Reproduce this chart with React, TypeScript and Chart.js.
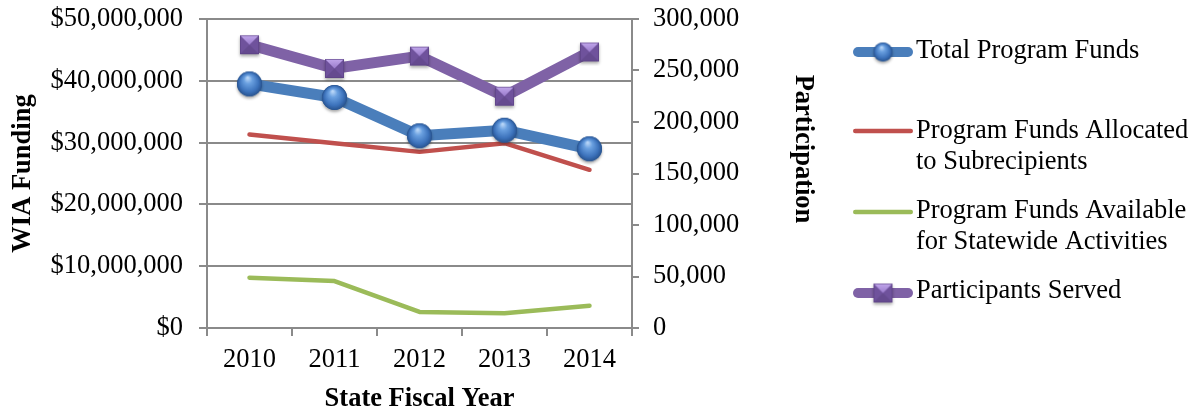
import React, { useEffect, useRef } from 'react';
import { Chart, registerables } from 'chart.js';

Chart.register(...registerables);

// ---- Data ----
const years = ['2010', '2011', '2012', '2013', '2014'];
const totalProgramFunds = [39500000, 37300000, 31100000, 32000000, 29000000];
const fundsAllocated = [31300000, 29900000, 28500000, 29900000, 25600000];
const fundsStatewide = [8150000, 7600000, 2600000, 2400000, 3600000];
const participantsServed = [275000, 252000, 264000, 225000, 268000];

const seriesLabels = [
  ['Total Program Funds'],
  ['Program Funds Allocated', 'to Subrecipients'],
  ['Program Funds Available', 'for Statewide Activities'],
  ['Participants Served'],
];

const fundingTitle = 'WIA Funding';
const participationTitle = 'Participation';
const yearTitle = 'State Fiscal Year';

// ---- Styles ----
const FONT = "'Liberation Serif', 'Times New Roman', serif";
const FS = 26.5;
const BLUE = '#4A7EBB';
const RED = '#C0504D';
const GREEN = '#9BBB59';
const PURPLE = '#7F62A6';
const GRID = '#8A8A8A';

function makeSphere(r: number): HTMLCanvasElement {
  const pad = 5;
  const size = Math.ceil(2 * (r + pad));
  const c = document.createElement('canvas');
  c.width = size;
  c.height = size;
  const ctx = c.getContext('2d')!;
  const cx = size / 2;
  const cy = size / 2;
  ctx.save();
  ctx.shadowColor = 'rgba(0,0,0,0.35)';
  ctx.shadowBlur = 3;
  ctx.shadowOffsetY = 2;
  ctx.beginPath();
  ctx.arc(cx, cy, r, 0, Math.PI * 2);
  ctx.fillStyle = '#2d5d9c';
  ctx.fill();
  ctx.restore();
  const g = ctx.createRadialGradient(cx - r * 0.15, cy - r * 0.5, r * 0.05, cx, cy, r);
  g.addColorStop(0, '#b7d5f7');
  g.addColorStop(0.3, '#6aa0e0');
  g.addColorStop(0.75, '#3c72bb');
  g.addColorStop(1, '#28538f');
  ctx.beginPath();
  ctx.arc(cx, cy, r, 0, Math.PI * 2);
  ctx.fillStyle = g;
  ctx.fill();
  return c;
}

function makeBevelSquare(s: number): HTMLCanvasElement {
  const pad = 5;
  const size = Math.ceil(s + 2 * pad);
  const c = document.createElement('canvas');
  c.width = size;
  c.height = size;
  const ctx = c.getContext('2d')!;
  const x0 = (size - s) / 2;
  const y0 = (size - s) / 2;
  const cx = size / 2;
  const cy = size / 2;
  ctx.save();
  ctx.shadowColor = 'rgba(0,0,0,0.35)';
  ctx.shadowBlur = 3;
  ctx.shadowOffsetY = 2;
  ctx.fillStyle = '#6a4e95';
  ctx.fillRect(x0, y0, s, s);
  ctx.restore();
  ctx.fillStyle = '#6f529c';
  ctx.fillRect(x0, y0, s, s);
  ctx.beginPath();
  ctx.moveTo(x0, y0 + s);
  ctx.lineTo(x0 + s, y0 + s);
  ctx.lineTo(cx, cy);
  ctx.closePath();
  ctx.fillStyle = '#654a8f';
  ctx.fill();
  ctx.beginPath();
  ctx.moveTo(x0, y0);
  ctx.lineTo(x0 + s, y0);
  ctx.lineTo(cx, cy);
  ctx.closePath();
  const g = ctx.createLinearGradient(0, y0, 0, cy);
  g.addColorStop(0, '#c2a8ec');
  g.addColorStop(1, '#9a7bcc');
  ctx.fillStyle = g;
  ctx.fill();
  ctx.strokeStyle = 'rgba(90,65,130,0.6)';
  ctx.lineWidth = 1;
  ctx.strokeRect(x0 + 0.5, y0 + 0.5, s - 1, s - 1);
  return c;
}

export default function App() {
  const canvasRef = useRef<HTMLCanvasElement | null>(null);

  useEffect(() => {
    const canvas = canvasRef.current;
    if (!canvas) return;

    const sphere = makeSphere(12.5);
    const square = makeBevelSquare(19);
    const sphereSmall = makeSphere(9.5);
    const squareSmall = makeBevelSquare(19);

    const legendEntries = [
      { color: BLUE, width: 10, marker: sphereSmall, symY: 52, textY: 51 },
      { color: RED, width: 4.5, marker: null, symY: 131, textY: 131.5 },
      { color: GREEN, width: 4.5, marker: null, symY: 212, textY: 211.5 },
      { color: PURPLE, width: 10, marker: squareSmall, symY: 293, textY: 291.5 },
    ];

    const extrasPlugin = {
      id: 'extras',
      afterDraw(chart: any) {
        const ctx = chart.ctx as CanvasRenderingContext2D;
        const area = chart.chartArea;
        ctx.save();
        ctx.font = `bold ${FS}px ${FONT}`;
        ctx.fillStyle = '#000';
        ctx.textAlign = 'center';
        ctx.textBaseline = 'middle';
        ctx.translate(area.right + 171, area.top + 130);
        ctx.rotate(Math.PI / 2);
        ctx.fillText(participationTitle, 0, 0);
        ctx.restore();

        ctx.save();
        const x0 = 853;
        const x1 = 913;
        const tx = 916;
        const lineGap = 31;
        legendEntries.forEach((e, i) => {
          ctx.beginPath();
          ctx.lineCap = 'round';
          ctx.strokeStyle = e.color;
          ctx.lineWidth = e.width;
          ctx.moveTo(x0 + e.width / 2, e.symY);
          ctx.lineTo(x1 - e.width / 2, e.symY);
          ctx.stroke();
          if (e.marker) {
            const m = e.marker as HTMLCanvasElement;
            ctx.drawImage(m, (x0 + x1) / 2 - m.width / 2, e.symY - m.height / 2);
          }
          ctx.font = `${FS}px ${FONT}`;
          ctx.fillStyle = '#000';
          ctx.textAlign = 'left';
          ctx.textBaseline = 'middle';
          const lines = (chart.data.datasets[i] as any).legendLines as string[];
          lines.forEach((t, j) => ctx.fillText(t, tx, e.textY + j * lineGap));
        });
        ctx.restore();
      },
    };

    const chart = new Chart(canvas, {
      type: 'line',
      data: {
        labels: years,
        datasets: [
          {
            label: seriesLabels[0].join(' '),
            legendLines: seriesLabels[0],
            data: totalProgramFunds,
            yAxisID: 'y',
            borderColor: BLUE,
            backgroundColor: BLUE,
            borderWidth: 11,
            pointStyle: sphere,
            pointRadius: 12,
            borderJoinStyle: 'round',
            tension: 0,
          } as any,
          {
            label: seriesLabels[1].join(' '),
            legendLines: seriesLabels[1],
            data: fundsAllocated,
            yAxisID: 'y',
            borderColor: RED,
            backgroundColor: RED,
            borderWidth: 4.5,
            pointRadius: 0,
            borderCapStyle: 'round',
            borderJoinStyle: 'round',
            tension: 0,
          } as any,
          {
            label: seriesLabels[2].join(' '),
            legendLines: seriesLabels[2],
            data: fundsStatewide,
            yAxisID: 'y',
            borderColor: GREEN,
            backgroundColor: GREEN,
            borderWidth: 4.5,
            pointRadius: 0,
            borderCapStyle: 'round',
            borderJoinStyle: 'round',
            tension: 0,
          } as any,
          {
            label: seriesLabels[3].join(' '),
            legendLines: seriesLabels[3],
            data: participantsServed,
            yAxisID: 'y1',
            borderColor: PURPLE,
            backgroundColor: PURPLE,
            borderWidth: 11,
            pointStyle: square,
            pointRadius: 10,
            borderJoinStyle: 'miter',
            tension: 0,
          } as any,
        ],
      },
      options: {
        responsive: false,
        animation: false,
        events: [],
        layout: { autoPadding: false, padding: { left: 0, top: 19, right: 378, bottom: 0 } },
        plugins: {
          legend: { display: false },
          tooltip: { enabled: false },
        },
        scales: {
          x: {
            offset: true,
            grid: {
              offset: true,
              drawOnChartArea: false,
              tickLength: 8,
              color: GRID,
              lineWidth: 2,
            },
            border: { color: GRID, width: 2 },
            ticks: { color: '#000', padding: 8, font: { family: FONT, size: FS } },
            title: {
              display: true,
              text: yearTitle,
              color: '#000',
              padding: { top: 0, bottom: 0 },
              font: { family: FONT, size: FS, weight: 'bold', lineHeight: 1 },
            },
            afterFit: (s: any) => {
              s.height = 84;
              s.paddingLeft = 0;
              s.paddingRight = 0;
            },
          },
          y: {
            position: 'left',
            min: 0,
            max: 50000000,
            ticks: {
              stepSize: 10000000,
              color: '#000',
              padding: 16,
              font: { family: FONT, size: FS },
              callback: (v: any) => '$' + Number(v).toLocaleString('en-US'),
            },
            grid: { color: GRID, lineWidth: 2, tickLength: 8 },
            border: { color: GRID, width: 2 },
            title: {
              display: true,
              text: fundingTitle,
              color: '#000',
              padding: { top: 7, bottom: 0 },
              font: { family: FONT, size: FS, weight: 'bold' },
            },
            afterFit: (s: any) => {
              s.width = 207;
              s.paddingTop = 0;
              s.paddingBottom = 0;
            },
          },
          y1: {
            position: 'right',
            min: 0,
            max: 300000,
            ticks: {
              stepSize: 50000,
              color: '#000',
              padding: 14,
              font: { family: FONT, size: FS },
              callback: (v: any) => Number(v).toLocaleString('en-US'),
            },
            grid: { drawOnChartArea: false, color: GRID, lineWidth: 2, tickLength: 7 },
            border: { color: GRID, width: 2 },
            afterFit: (s: any) => {
              s.width = 187;
              s.paddingTop = 0;
              s.paddingBottom = 0;
            },
          },
        },
      } as any,
      plugins: [extrasPlugin],
    });

    return () => {
      chart.destroy();
    };
  }, []);

  return (
    <div style={{ position: 'absolute', left: 0, top: 0, width: 1197, height: 412, background: '#fff' }}>
      <canvas ref={canvasRef} width={1197} height={412} style={{ display: 'block' }} />
    </div>
  );
}
